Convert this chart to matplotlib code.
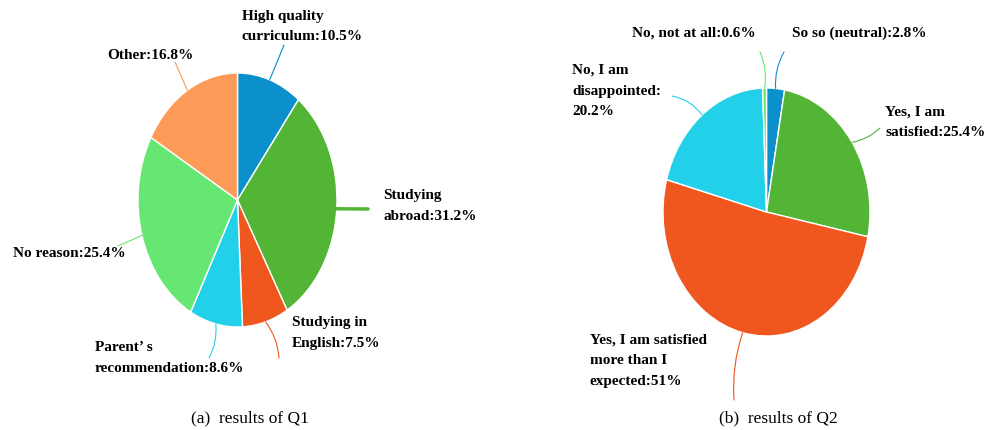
import matplotlib.pyplot as plt
import numpy as np

# Q1 data
q1_labels = ["High quality\ncurriculum:10.5%", "Studying\nabroad:31.2%", "Studying in\nEnglish:7.5%",
             "Parent\u2019 s\nrecommendation:8.6%", "No reason:25.4%", "Other:16.8%"]
q1_values = [10.5, 31.2, 7.5, 8.6, 25.4, 16.8]
q1_colors = ["#0b90cc", "#52b535", "#f0571f", "#23d0e9", "#66e673", "#fe9a57"]

# Q2 data
q2_labels = ["So so (neutral):2.8%", "Yes, I am\nsatisfied:25.4%",
             "Yes, I am satisfied\nmore than I\nexpected:51%", "No, I am\ndisappointed:\n20.2%",
             "No, not at all:0.6%"]
q2_values = [2.8, 25.4, 51, 20.2, 0.6]
q2_colors = ["#0b90cc", "#52b535", "#f0571f", "#23d0e9", "#66e673"]

W, H = 989, 430
fig = plt.figure(figsize=(W / 100, H / 100), dpi=100)


def px(x, y):
    return (x / W, 1 - y / H)


def pie_axes(x0, y0, x1, y1):
    ax = fig.add_axes([x0 / W, 1 - y1 / H, (x1 - x0) / W, (y1 - y0) / H])
    return ax


font = dict(family="Liberation Serif", fontweight="bold", fontsize=11)


def draw(ax, values, colors, labels, spots):
    wedges, _ = ax.pie(values, colors=colors, startangle=90, counterclock=False,
                       wedgeprops=dict(edgecolor="white", linewidth=1))
    ax.set_aspect("auto")
    ax.set_xlim(-1, 1)
    ax.set_ylim(-1, 1)
    ax.axis("off")
    for w, lab, (tx, ty, lx, ly, rad, lw) in zip(wedges, labels, spots):
        ang = np.deg2rad((w.theta1 + w.theta2) / 2)
        ax.annotate("", xy=(np.cos(ang), np.sin(ang)), xycoords="data",
                    xytext=px(lx, ly), textcoords="figure fraction",
                    arrowprops=dict(arrowstyle="-", color=w.get_facecolor(), lw=lw,
                                    connectionstyle=f"arc3,rad={rad}", shrinkA=0, shrinkB=0))
        fig.text(*px(tx, ty), lab, ha="left", va="top", linespacing=1.75, **font)


ax1 = pie_axes(138, 73, 337, 327)
draw(ax1, q1_values, q1_colors, q1_labels, [
    (242, 10, 284, 45, 0.0, 0.8),
    (383, 189, 368, 209, 0.0, 2.5),
    (292, 316, 279, 358, 0.15, 0.8),
    (95, 341, 209, 358, 0.15, 0.8),
    (13, 247, 118, 246, 0.0, 0.8),
    (107, 49, 175, 62, 0.0, 0.8),
])

ax2 = pie_axes(663, 88, 870, 336)
draw(ax2, q2_values, q2_colors, q2_labels, [
    (792, 27, 784, 52, 0.15, 0.8),
    (885, 106, 880, 128, -0.15, 0.8),
    (590, 334, 734, 400, -0.1, 0.8),
    (572, 64, 672, 96, -0.2, 0.8),
    (632, 27, 760, 52, -0.15, 0.8),
])

fig.text(*px(250, 418), "(a)  results of Q1", ha="center", va="center",
         family="Liberation Serif", fontsize=12.5)
fig.text(*px(778, 418), "(b)  results of Q2", ha="center", va="center",
         family="Liberation Serif", fontsize=12.5)

fig.savefig("out.png", dpi=100)
